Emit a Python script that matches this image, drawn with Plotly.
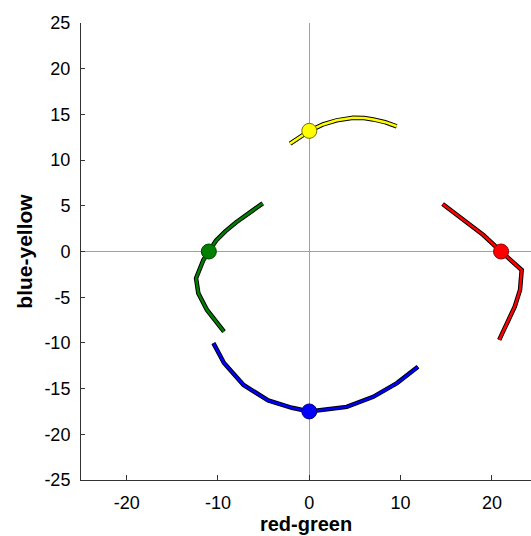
import plotly.graph_objects as go

# Hue trajectories in the red-green / blue-yellow opponent plane
red_x = [14.6, 16.9, 19.06, 21.0, 22.0, 23.26, 23.08, 22.5, 20.8]
red_y = [5.19, 3.44, 1.8, 0.0, -0.93, -2.02, -4.2, -6.03, -9.67]

green_x = [-5.1, -6.5, -8.0, -9.2, -10.2, -11.0, -11.6, -12.4, -12.15, -11.2, -9.34]
green_y = [5.27, 4.3, 3.2, 2.2, 1.2, 0.0, -0.93, -2.93, -4.57, -6.4, -8.77]

blue_x = [-10.5, -9.34, -7.2, -4.5, -1.9, 0.0, 4.1, 7.0, 9.6, 11.9]
blue_y = [-10.03, -12.2, -14.6, -16.3, -17.1, -17.5, -17.0, -15.9, -14.4, -12.6]

yellow_x = [-2.1, 0.0, 1.5, 3.0, 4.8, 6.0, 7.0, 8.3, 9.57]
yellow_y = [11.8, 13.2, 13.9, 14.35, 14.62, 14.6, 14.45, 14.15, 13.7]

# Unique hue points (marked with circles)
point_x = [21.0, -11.0, 0.0, 0.0]
point_y = [0.0, 0.0, -17.5, 13.2]

x_ticks = [-20, -10, 0, 10, 20]
y_ticks = [-25, -20, -15, -10, -5, 0, 5, 10, 15, 20, 25]

curves = [
    (red_x, red_y, "#ff0000", "#8b0000"),
    (green_x, green_y, "#008000", "#004000"),
    (blue_x, blue_y, "#0000ff", "#000080"),
    (yellow_x, yellow_y, "#ffff00", "#707000"),
]

fig = go.Figure()
for (cx, cy, col, edge), px, py in zip(curves, point_x, point_y):
    fig.add_trace(go.Scatter(x=cx, y=cy, mode="lines",
                             line=dict(color="black", width=4.5),
                             hoverinfo="skip"))
    fig.add_trace(go.Scatter(x=cx, y=cy, mode="lines",
                             line=dict(color=col, width=2.5),
                             hoverinfo="skip"))
    fig.add_trace(go.Scatter(x=[px], y=[py], mode="markers",
                             marker=dict(size=15, color=col,
                                         line=dict(color=edge, width=1)),
                             hoverinfo="skip"))

tick_font = dict(family="Liberation Sans, Arial, sans-serif", size=18, color="black")
title_font = dict(family="Liberation Sans, Arial, sans-serif", size=20, color="black")

fig.update_layout(
    width=531, height=536,
    margin=dict(l=81, r=0, t=23, b=56),
    paper_bgcolor="white", plot_bgcolor="white",
    showlegend=False,
    xaxis=dict(
        range=[-25, 24.28], tickvals=x_ticks, ticktext=[str(v) for v in x_ticks],
        ticks="inside", ticklen=5, tickcolor="#333", tickwidth=1,
        showline=True, linecolor="#333", linewidth=1,
        showgrid=False, zeroline=True, zerolinecolor="#a0a0a0", zerolinewidth=1,
        tickfont=tick_font, ticklabelstandoff=6,
        title=dict(text="<b>red-green</b>", font=title_font, standoff=4),
    ),
    yaxis=dict(
        range=[-25, 25], tickvals=y_ticks, ticktext=[str(v) for v in y_ticks],
        ticks="inside", ticklen=4, tickcolor="#333", tickwidth=1,
        showline=True, linecolor="#333", linewidth=1,
        showgrid=False, zeroline=True, zerolinecolor="#a0a0a0", zerolinewidth=1,
        tickfont=tick_font, ticklabelstandoff=6,
        title=dict(text="<b>blue-yellow</b>", font=dict(title_font, size=21), standoff=6),
    ),
)

fig.write_html("out.html")
